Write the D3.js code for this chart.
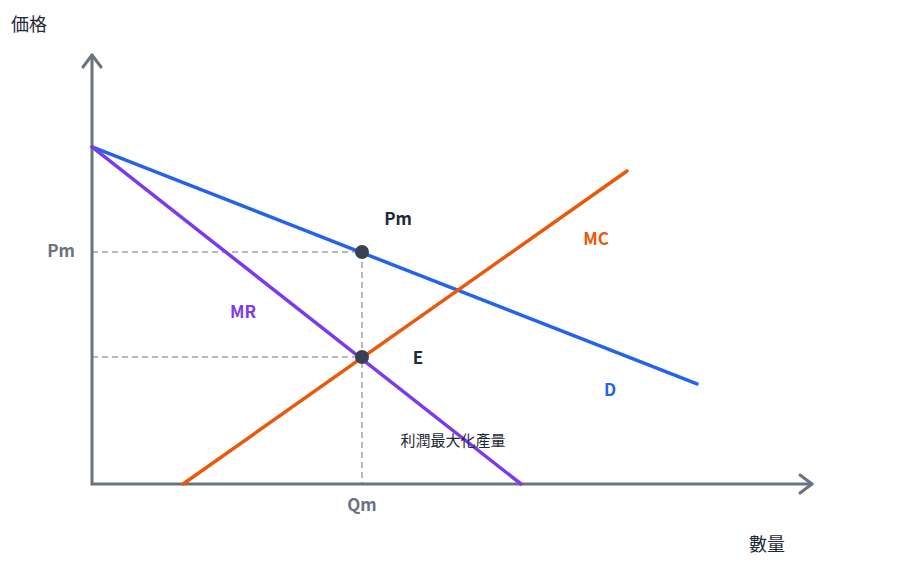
<!DOCTYPE html>
<html><head><meta charset="utf-8">
<script src="https://cdn.jsdelivr.net/npm/d3@7"></script>
<style>body{margin:0;background:#fff}text{font-family:"Noto Sans CJK JP","Noto Sans",sans-serif}</style>
</head><body><svg id="c" width="900" height="585"></svg>
<script>
const demandLine=[[0,5.617],[10.083,1.667]];
const mrLine=[[0,5.617],[7.15,0]];
const mcLine=[[1.517,0],[8.917,5.217]];
const points=[{name:"Pm",x:4.5,y:3.867},{name:"E",x:4.5,y:2.117}];
const xTickLabels=[{label:"Qm",v:4.5}];
const yTickLabels=[{label:"Pm",v:3.867}];

const svg=d3.select("#c");
const x=d3.scaleLinear().domain([0,12]).range([92,812]);
const y=d3.scaleLinear().domain([0,7.15]).range([484,55]);
const axisCol="#6b7280";
const line=d3.line().x(d=>x(d[0])).y(d=>y(d[1]));
// dashed guides
points.forEach(p=>{
  svg.append("line").attr("x1",x(0)).attr("x2",x(p.x)).attr("y1",y(p.y)).attr("y2",y(p.y))
   .attr("stroke","#9ca3af").attr("stroke-width",1.5).attr("stroke-dasharray","6,4");
});
svg.append("line").attr("x1",x(4.5)).attr("x2",x(4.5)).attr("y1",y(3.867)).attr("y2",y(0))
   .attr("stroke","#9ca3af").attr("stroke-width",1.5).attr("stroke-dasharray","6,4");
// axes
svg.append("line").attr("x1",x(0)).attr("y1",y(0)).attr("x2",x(12)).attr("y2",y(0)).attr("stroke",axisCol).attr("stroke-width",3).attr("stroke-linecap","round");
svg.append("line").attr("x1",x(0)).attr("y1",y(0)).attr("x2",x(0)).attr("y2",y(7.15)).attr("stroke",axisCol).attr("stroke-width",3).attr("stroke-linecap","round");
svg.append("path").attr("d",`M${x(12)-12},${y(0)-9}L${x(12)},${y(0)}L${x(12)-12},${y(0)+9}`).attr("fill","none").attr("stroke",axisCol).attr("stroke-width",3).attr("stroke-linecap","round").attr("stroke-linejoin","round");
svg.append("path").attr("d",`M${x(0)-9},${y(7.15)+12}L${x(0)},${y(7.15)}L${x(0)+9},${y(7.15)+12}`).attr("fill","none").attr("stroke",axisCol).attr("stroke-width",3).attr("stroke-linecap","round").attr("stroke-linejoin","round");
// curves
[[demandLine,"#2563eb"],[mrLine,"#7c3aed"],[mcLine,"#ea580c"]].forEach(([d,c])=>{
  svg.append("path").attr("d",line(d)).attr("fill","none").attr("stroke",c).attr("stroke-width",3.5).attr("stroke-linecap","round");
});
points.forEach(p=>svg.append("circle").attr("cx",x(p.x)).attr("cy",y(p.y)).attr("r",7).attr("fill","#374151"));
const txt=(t,px,py,col,size,anchor="middle",w="bold")=>svg.append("text").attr("x",px).attr("y",py).attr("fill",col).attr("font-size",size).attr("font-weight",w).attr("text-anchor",anchor).attr("dominant-baseline","middle").text(t);
yTickLabels.forEach(t=>txt(t.label,x(0)-17,y(t.v),axisCol,17,"end"));
xTickLabels.forEach(t=>txt(t.label,x(t.v),y(0)+22,axisCol,17));
txt("価格",29,26,"#1f2937",18,"middle","normal");
txt("數量",767,546,"#1f2937",18,"middle","normal");
txt("Pm",398,220,"#1f2937",17);
txt("E",418,359,"#1f2937",17);
txt("MC",596,240,"#ea580c",17);
txt("MR",243,313,"#7c3aed",17);
txt("D",610,391,"#2563eb",17);
txt("利潤最大化產量",453,442,"#1f2937",15,"middle","normal");
</script></body></html>
